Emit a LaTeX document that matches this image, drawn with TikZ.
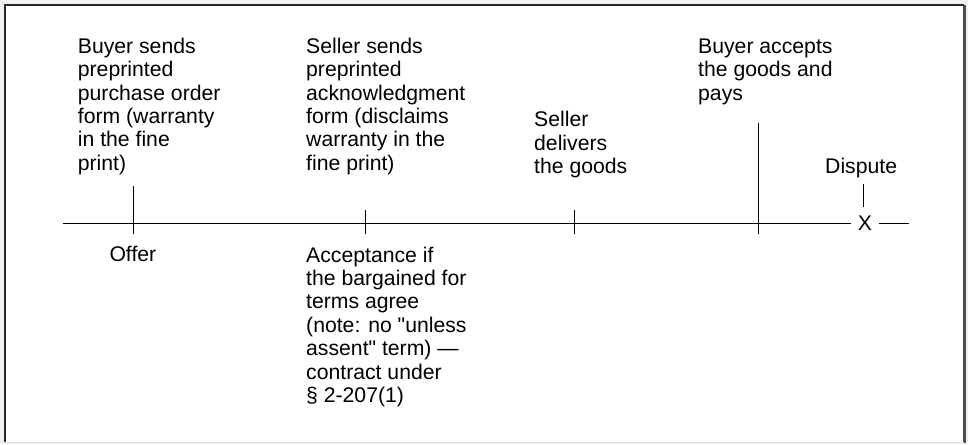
\documentclass[tikz,border=0pt]{standalone}
\usepackage{fontspec}
\setmainfont{Liberation Sans}
\begin{document}
\begin{tikzpicture}[x=1pt,y=-1pt,
  lbl/.style={anchor=base west,inner sep=0pt,align=left,font=\fontsize{21.2}{23.4}\selectfont},
  tick/.style={line width=1.2pt,black},
  axis/.style={line width=1.2pt,black}]
\useasboundingbox (0,0) rectangle (968,444);
% frame
\fill[black!6] (0,0) rectangle (968,444);
\fill[white] (5,5) rectangle (964,442);
\draw[black!85,line width=1.4pt] (5,442) -- (5,5) -- (964,5);
\draw[black!70,line width=3pt] (964.5,5) -- (964.5,443);
\draw[black!12,line width=1pt] (5,442) -- (964,442);
% texts above (base anchor = baseline of last line)
\node[lbl] (buyer) at (77.7,170.3) {Buyer sends\\preprinted\\purchase order\\form (warranty\\in the fine\\print)};
\node[lbl] (seller) at (306,170.3) {Seller sends\\preprinted\\acknowledgment\\form (disclaims\\warranty in the\\fine print)};
\node[lbl] (deliv) at (534,173.5) {Seller\\delivers\\the goods};
\node[lbl] (accept) at (698,100.1) {Buyer accepts\\the goods and\\pays};
\node[lbl] (dispute) at (825,173.3) {Dispute};
% texts below
\node[lbl] (offer) at (109.3,261.7) {Offer};
\node[lbl] (accnote) at (306,402.4) {Acceptance if\\the bargained for\\terms agree\\(note: no \textquotedbl unless\\assent\textquotedbl{} term) —\\contract under\\§ 2-207(1)};
% X
\node[anchor=base,inner ysep=0pt,inner xsep=7pt,font=\fontsize{21.2}{23.4}\selectfont] (xmark) at (865,230.7) {X};
% timeline
\coordinate (lstart) at (63,223.5);
\coordinate (lend) at (909,223.5);
\draw[axis] (lstart) -- (xmark.west |- lstart);
\draw[axis] (xmark.east |- lstart) -- (lend);
% ticks
\coordinate (o1) at (133.5,186); \coordinate (o2) at (133.5,234);
\coordinate (a1) at (365.5,210); \coordinate (a2) at (365.5,234);
\coordinate (d1) at (574.5,210); \coordinate (d2) at (574.5,234);
\coordinate (b1) at (758.5,122.7); \coordinate (b2) at (758.5,234);
\coordinate (p1) at (863.5,184); \coordinate (p2) at (863.5,206.7);
\draw[tick] (o1) -- (o2);
\draw[tick] (a1) -- (a2);
\draw[tick] (d1) -- (d2);
\draw[tick] (b1) -- (b2);
\draw[tick] (p1) -- (p2);
\end{tikzpicture}
\end{document}
